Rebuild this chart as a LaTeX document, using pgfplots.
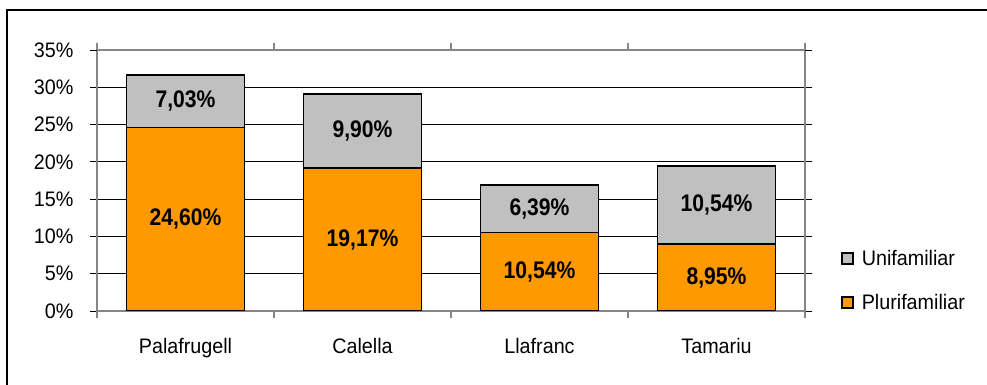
\documentclass[border=0pt]{standalone}
\usepackage{fontspec}
\setmainfont[FakeStretch=0.94]{Liberation Sans}
\newfontfamily\valfont[FakeStretch=0.88]{Liberation Sans}
\usepackage{pgfplots}
\pgfplotsset{compat=1.18}
\usepackage{pgfplotstable}

\definecolor{plu}{HTML}{FF9900}
\definecolor{uni}{HTML}{C0C0C0}
\definecolor{axgray}{HTML}{868686}

% share of dwellings by type and village (%)
\pgfplotstableread{
x plu uni
0 24.60 7.03
1 19.17 9.90
2 10.54 6.39
3 8.95 10.54
}\datatable

\begin{document}
\begin{tikzpicture}[x=1pt,y=1pt]
\begin{axis}[
  name=ax,
  scale only axis, width=708pt, height=261pt,
  xmin=-0.5, xmax=3.5, ymin=0, ymax=35,
  ybar stacked, bar width=118pt,
  axis line style={axgray, line width=1.4pt},
  ytick={0,5,...,30},
  extra y ticks={35}, extra y tick labels={35\%},
  extra y tick style={grid=none},
  ymajorgrids, grid style={black, line width=0.9pt},
  yticklabel={\pgfmathprintnumber{\tick}\%},
  /pgf/number format/assume math mode=true,
  tick align=outside, major tick length=7pt,
  ytick style={black, line width=0.9pt},
  xtick style={axgray, line width=1.2pt},
  xtick={-0.5,0.5,1.5,2.5,3.5}, xticklabels={},
  extra x ticks={0,1,2,3},
  extra x tick labels={Palafrugell,Calella,Llafranc,Tamariu},
  extra x tick style={major tick length=0pt, grid=none,
     xticklabel style={yshift=-24pt}},
  ticklabel style={font=\fontsize{21}{24}\selectfont, text=black},
  yticklabel style={xshift=-13pt},
  point meta=explicit,
  nodes near coords={\pgfmathprintnumber[fixed,fixed zerofill,precision=2,use comma]{\pgfplotspointmeta}\%},
  every node near coord/.append style={anchor=center, font=\valfont\fontsize{24}{26}\selectfont\bfseries, text=black},
  legend image code/.code={\draw[#1, line width=1.3pt] (0pt,-5.5pt) rectangle (11pt,5.5pt);},
  reverse legend,
  legend cell align=left,
  legend style={draw=none, fill=none, at={(1.047,-0.015)}, anchor=south west,
     font=\fontsize{21}{24}\selectfont, row sep=23pt, column sep=6pt},
]
\addplot[fill=plu, draw=black, line width=1.8pt]
  table[x=x, y=plu, meta=plu] {\datatable};
\addlegendentry{Plurifamiliar}
\addplot[fill=uni, draw=black, line width=1.8pt]
  table[x=x, y=uni, meta=uni] {\datatable};
\addlegendentry{Unifamiliar}
\end{axis}
% chart frame
\draw[line width=2.2pt] ([shift={(-90pt,-90pt)}]ax.south west) -- ([shift={(-90pt,301pt)}]ax.south west)
  -- ([shift={(910pt,301pt)}]ax.south west);
\pgfresetboundingbox
\path[use as bounding box] ([shift={(-97pt,-74pt)}]ax.south west) rectangle ([shift={(890pt,311pt)}]ax.south west);
\end{tikzpicture}
\end{document}
